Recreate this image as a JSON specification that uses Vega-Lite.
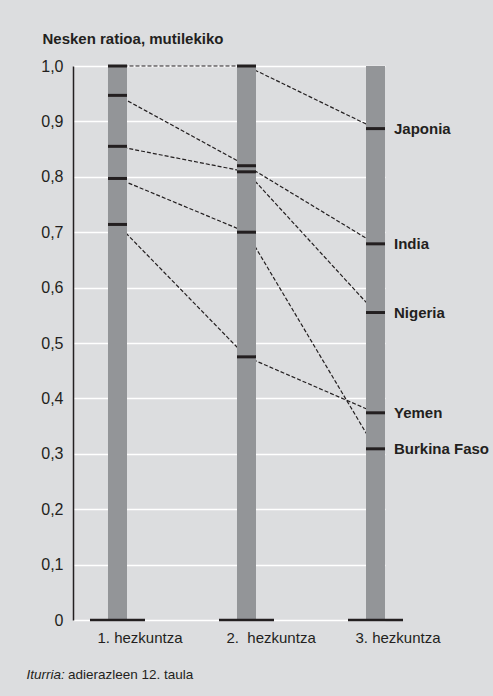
{
  "$schema": "https://vega.github.io/schema/vega-lite/v6.json",
  "autosize": {"type": "none"},
  "padding": {"left": 73, "top": 66, "right": 108, "bottom": 76},
  "width": 312,
  "height": 554,
  "background": "#dcdddf",
  "config": {"view": {"stroke": null}, "font": "Liberation Sans"},
  "datasets": {
    "maat": [
      {"maa": "Japonia", "hezkuntza": "1. hezkuntza", "ratio": 1.0},
      {"maa": "Japonia", "hezkuntza": "2.\u00a0 hezkuntza", "ratio": 1.0},
      {"maa": "Japonia", "hezkuntza": "3. hezkuntza", "ratio": 0.887},
      {"maa": "India", "hezkuntza": "1. hezkuntza", "ratio": 0.947},
      {"maa": "India", "hezkuntza": "2.\u00a0 hezkuntza", "ratio": 0.82},
      {"maa": "India", "hezkuntza": "3. hezkuntza", "ratio": 0.679},
      {"maa": "Nigeria", "hezkuntza": "1. hezkuntza", "ratio": 0.855},
      {"maa": "Nigeria", "hezkuntza": "2.\u00a0 hezkuntza", "ratio": 0.809},
      {"maa": "Nigeria", "hezkuntza": "3. hezkuntza", "ratio": 0.555},
      {"maa": "Burkina Faso", "hezkuntza": "1. hezkuntza", "ratio": 0.797},
      {"maa": "Burkina Faso", "hezkuntza": "2.\u00a0 hezkuntza", "ratio": 0.70},
      {"maa": "Burkina Faso", "hezkuntza": "3. hezkuntza", "ratio": 0.309},
      {"maa": "Yemen", "hezkuntza": "1. hezkuntza", "ratio": 0.714},
      {"maa": "Yemen", "hezkuntza": "2.\u00a0 hezkuntza", "ratio": 0.475},
      {"maa": "Yemen", "hezkuntza": "3. hezkuntza", "ratio": 0.374}
    ],
    "zutabeak": [
      {"hezkuntza": "1. hezkuntza", "goia": 1, "behea": 0},
      {"hezkuntza": "2.\u00a0 hezkuntza", "goia": 1, "behea": 0},
      {"hezkuntza": "3. hezkuntza", "goia": 1, "behea": 0}
    ]
  },
  "layer": [
    {
      "layer": [
        {
          "data": {"name": "maat"},
          "mark": {"type": "line", "strokeDash": [4, 2], "strokeWidth": 1.2, "color": "#231f20"},
          "encoding": {
            "x": {
              "field": "hezkuntza", "type": "nominal",
              "scale": {"type": "point", "padding": 0.2093, "align": 0.824},
              "axis": {
                "title": "Iturria:", "titleFontStyle": "italic", "titleFontWeight": "normal",
                "titleFontSize": 13.5, "titleColor": "#231f20", "titleX": -47, "titleY": 58,
                "titleAlign": "left", "titleBaseline": "alphabetic", "titleAnchor": "start",
                "labelAlign": "left", "labelOffset": -20.5, "labelPadding": 10, "labelFontSize": 15,
                "labelColor": "#231f20", "labelAngle": 0, "labelBaseline": "top",
                "ticks": false, "domain": false, "grid": false
              }
            },
            "y": {
              "field": "ratio", "type": "quantitative",
              "scale": {"domain": [0, 1], "nice": false},
              "axis": {
                "title": "Nesken ratioa, mutilekiko", "titleAngle": 0, "titleX": -31, "titleY": -23,
                "titleAlign": "left", "titleBaseline": "alphabetic", "titleFontSize": 15,
                "titleFontWeight": "bold", "titleColor": "#231f20",
                "values": [0, 0.1, 0.2, 0.3, 0.4, 0.5, 0.6, 0.7, 0.8, 0.9, 1],
                "labelExpr": "datum.value == 0 ? '0' : replace(format(datum.value, '.1f'), '.', ',')",
                "labelFontSize": 16, "labelPadding": 10, "labelColor": "#231f20",
                "labelOverlap": false, "labelFlush": false,
                "ticks": false, "domain": true, "domainColor": "#231f20", "domainWidth": 1.5,
                "grid": true, "gridColor": "#ffffff", "gridWidth": 1.5, "gridOpacity": 1
              }
            },
            "detail": {"field": "maa", "type": "nominal"}
          }
        },
        {
          "data": {"name": "zutabeak"},
          "mark": {"type": "bar", "size": 19, "color": "#939598"},
          "encoding": {
            "x": {"field": "hezkuntza", "type": "nominal"},
            "y": {"field": "goia", "type": "quantitative"}
          }
        },
        {
          "data": {"name": "maat"},
          "mark": {"type": "tick", "size": 19, "thickness": 3, "color": "#231f20", "opacity": 1},
          "encoding": {
            "x": {"field": "hezkuntza", "type": "nominal"},
            "y": {"field": "ratio", "type": "quantitative"}
          }
        },
        {
          "data": {"name": "zutabeak"},
          "mark": {"type": "tick", "size": 55, "thickness": 2.5, "color": "#231f20", "opacity": 1},
          "encoding": {
            "x": {"field": "hezkuntza", "type": "nominal"},
            "y": {"field": "behea", "type": "quantitative"}
          }
        }
      ]
    },
    {
      "data": {"name": "maat"},
      "transform": [{"filter": "datum.hezkuntza === '3. hezkuntza'"}],
      "mark": {"type": "text", "align": "left", "baseline": "middle", "dx": 18.5, "fontSize": 15, "fontWeight": "bold", "color": "#231f20"},
      "encoding": {
        "x": {"field": "hezkuntza", "type": "nominal"},
        "y": {
          "field": "ratio", "type": "quantitative",
          "scale": {"domain": [0, 1], "nice": false},
          "axis": {
            "title": "adierazleen 12. taula", "titleAngle": 0, "titleX": -317.5, "titleY": 612,
            "titleAlign": "left", "titleBaseline": "alphabetic", "titleFontSize": 13.5,
            "titleFontWeight": "normal", "titleColor": "#231f20", "titleAnchor": "start",
            "labels": false, "ticks": false, "domain": false, "grid": false
          }
        },
        "text": {"field": "maa", "type": "nominal"}
      }
    }
  ],
  "resolve": {"axis": {"y": "independent"}}
}
